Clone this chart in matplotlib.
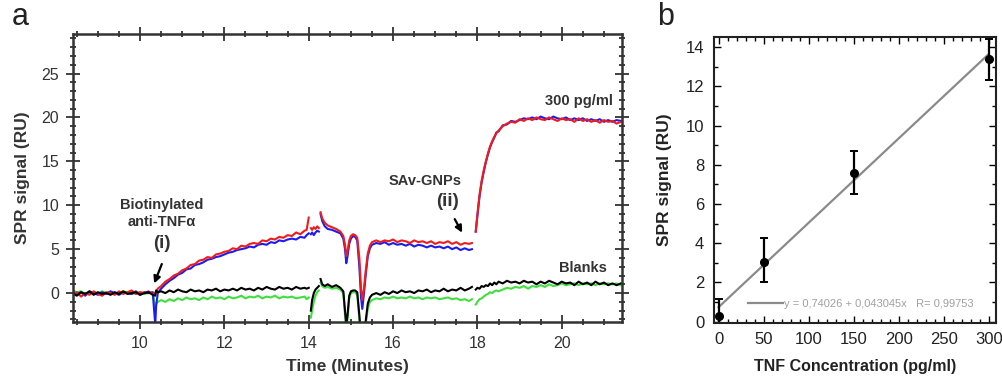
import numpy as np
import matplotlib
matplotlib.use("Agg")
import matplotlib.pyplot as plt
from matplotlib.ticker import MultipleLocator

plt.rcParams['font.family'] = ['Liberation Sans', 'DejaVu Sans']

# ---- panel a: SPR sensorgram (time in minutes, signal in RU) ----
# segment 1: baseline + anti-TNF binding
t_1 = np.r_[np.arange(8.4, 10.35, 0.1), [10.36, 10.38, 10.42],
            np.arange(10.5, 13.95, 0.1), [13.95, 14.0]]
red_1 = [-0.3, 0.1, -0.4, 0.0, -0.2, 0.2, -0.1, -0.3, 0.1, 0.0, -0.2, 0.2, -0.1, 0.1, 0.3, -0.1, 0.1, 0.0, 0.2, -0.1,
         0.0, 0.2, 0.5,
         0.8, 1.3, 1.6, 2.0, 2.2, 2.6, 2.8, 3.2, 3.3, 3.7, 3.8, 4.1, 4.0, 4.4, 4.5, 4.7, 4.8, 5.1, 5.0, 5.4, 5.3,
         5.6, 5.7, 5.6, 6.0, 5.9, 6.2, 6.1, 6.4, 6.3, 6.6, 6.5, 6.9, 6.7, 7.1,
         7.2, 8.6]
blue_1 = [0.2, -0.1, 0.1, -0.3, 0.2, 0.0, -0.2, 0.1, -0.1, 0.2, 0.0, -0.2, 0.1, 0.0, -0.1, 0.2, -0.2, 0.1, 0.0, 0.1,
          -3.6, -1.5, 0.0,
          0.5, 1.0, 1.4, 1.7, 2.1, 2.3, 2.7, 2.8, 3.2, 3.3, 3.5, 3.8, 3.9, 4.1, 4.2, 4.4, 4.6, 4.7, 4.9, 5.0, 5.1,
          5.3, 5.2, 5.5, 5.6, 5.5, 5.8, 5.7, 6.0, 5.9, 6.1, 6.2, 6.1, 6.4, 6.3,
          6.6, 6.8]
black_1 = [0.0, -0.3, 0.1, -0.1, 0.2, -0.2, 0.1, -0.1, 0.0, -0.2, 0.1, -0.1, 0.2, -0.1, 0.0, 0.1, -0.2, 0.0, 0.1, -0.2,
           -0.3, 0.3, 0.1,
           0.2, 0.0, 0.3, 0.1, 0.4, 0.2, 0.1, 0.4, 0.2, 0.3, 0.1, 0.4, 0.3, 0.5, 0.2, 0.4, 0.3, 0.5, 0.3, 0.6, 0.4,
           0.5, 0.3, 0.6, 0.4, 0.7, 0.5, 0.4, 0.7, 0.5, 0.6, 0.4, 0.7, 0.5, 0.6,
           0.5, 0.6]
green_1 = [0.3, 0.1, 0.2, -0.1, 0.0, 0.1, -0.1, 0.2, 0.0, 0.1, -0.1, 0.0, 0.2, 0.1, -0.1, 0.0, 0.1, -0.1, 0.0, 0.1,
           -1.6, -1.2, -1.0,
           -0.8, -1.0, -0.7, -0.9, -0.6, -0.8, -0.5, -0.7, -0.6, -0.8, -0.5, -0.7, -0.4, -0.6, -0.5, -0.7, -0.4,
           -0.6, -0.5, -0.3, -0.6, -0.4, -0.5, -0.3, -0.6, -0.4, -0.5, -0.3, -0.6, -0.4, -0.5, -0.4, -0.6, -0.5, -0.4,
           -0.7, -0.5]

# segment 2: short piece after injection switch
t_2 = [14.05, 14.08, 14.12, 14.16, 14.2, 14.24]
red_2 = [7.4, 7.2, 7.5, 7.3, 7.6, 7.4]
blue_2 = [6.7, 6.9, 6.6, 6.9, 7.1, 7.0]
black_2 = [-2.0, -0.8, 0.0, 0.4, 0.6, 0.8]
green_2 = [-2.8, -2.0, -1.0, -0.3, 0.1, 0.3]

# segment 3: TNF / wash with buffer dips
t_3 = np.r_[[14.28, 14.32, 14.38, 14.45, 14.55, 14.65, 14.75, 14.82, 14.86, 14.89, 14.92, 14.96,
             15.0, 15.05, 15.1, 15.15, 15.2, 15.24, 15.27, 15.31, 15.35, 15.4, 15.45, 15.5],
            np.arange(15.6, 17.85, 0.1), [17.87]]
red_3 = [9.2, 8.5, 8.0, 7.7, 7.5, 7.3, 7.0, 6.5, 5.5, 4.2, 4.8, 6.0,
         6.5, 6.7, 6.6, 6.3, 4.0, 0.5, -0.8, 0.5, 2.5, 4.5, 5.4, 5.8,
         6.0, 5.8, 6.0, 5.9, 6.1, 5.8, 6.0, 5.9, 5.7, 6.0, 5.8, 5.9, 5.7, 5.9, 5.6, 5.8, 5.7, 5.9, 5.6, 5.8,
         5.5, 5.7, 5.6, 5.7]
blue_3 = [9.0, 8.2, 7.6, 7.3, 7.2, 7.0, 6.8, 6.2, 5.0, 3.4, 4.2, 5.6,
          6.2, 6.5, 6.4, 6.0, 3.0, -0.5, -1.8, 0.0, 2.0, 4.2, 5.1, 5.5,
          5.7, 5.6, 5.8, 5.5, 5.7, 5.5, 5.6, 5.4, 5.6, 5.3, 5.5, 5.4, 5.2, 5.4, 5.2, 5.3, 5.1, 5.3, 5.0, 5.2,
          4.9, 5.1, 4.9, 5.0]
black_3 = [1.6, 1.0, 0.8, 1.0, 0.7, 0.9, 0.6, 0.2, -2.0, -3.6, -2.5, -0.3,
           0.2, 0.3, 0.3, 0.1, -2.5, -5.0, -5.0, -5.0, -3.2, -1.2, -0.5, -0.2,
           0.0, -0.2, 0.1, -0.1, 0.2, 0.0, 0.3, 0.1, 0.2, 0.0, 0.3, 0.2, 0.4, 0.1, 0.3, 0.2, 0.5, 0.2, 0.4, 0.3,
           0.6, 0.3, 0.5, 0.7]
green_3 = [1.2, 0.8, 0.6, 0.7, 0.5, 0.6, 0.4, 0.0, -2.5, -4.0, -3.0, -0.6,
           0.0, 0.1, 0.1, -0.2, -3.0, -5.0, -5.0, -5.0, -3.6, -1.8, -1.0, -0.8,
           -0.6, -0.7, -0.5, -0.6, -0.4, -0.6, -0.5, -0.6, -0.4, -0.6, -0.5, -0.7, -0.5, -0.6, -0.5, -0.7,
           -0.6, -0.5, -0.7, -0.6, -0.8, -0.7, -0.9, -0.7]

# segment 4: SAv-GNP amplification
t_4 = np.r_[[17.96, 18.0, 18.05, 18.1, 18.15, 18.2, 18.25, 18.3, 18.35, 18.4, 18.45, 18.5],
            np.arange(18.6, 21.45, 0.1)]
red_4 = [7.0, 9.0, 11.2, 12.8, 14.0, 15.0, 15.9, 16.7, 17.3, 17.8, 18.2, 18.5,
         19.0, 19.3, 19.5, 19.4, 19.8, 19.6, 19.9, 19.7, 20.0, 19.8, 19.7, 20.0, 19.8, 19.6, 19.9,
         19.7, 19.8, 19.5, 19.9, 19.6, 19.8, 19.5, 19.7, 19.4, 19.7, 19.5, 19.6, 19.3, 19.5]
blue_4 = [7.0, 8.8, 11.0, 12.6, 13.8, 14.9, 15.8, 16.6, 17.2, 17.7, 18.3, 18.4,
          19.1, 19.2, 19.6, 19.5, 19.7, 19.9, 19.8, 20.0, 19.8, 20.1, 19.9, 19.8, 20.1, 19.9, 19.8,
          20.0, 19.7, 19.9, 19.7, 19.9, 19.6, 19.8, 19.6, 19.8, 19.5, 19.7, 19.5, 19.7, 19.6]
black_4 = [0.4, 0.6, 0.5, 0.8, 0.7, 0.9, 0.8, 1.1, 0.9, 1.2, 1.0, 1.3,
           1.1, 1.4, 1.2, 1.3, 1.1, 1.4, 1.2, 1.3, 1.0, 1.3, 1.1, 1.4, 1.2, 1.0, 1.3,
           1.1, 1.2, 0.9, 1.3, 1.0, 1.2, 0.9, 1.3, 1.0, 1.2, 0.9, 1.1, 0.9, 1.1]
green_4 = [-1.3, -1.0, -0.7, -0.6, -0.4, -0.2, -0.1, 0.1, 0.0, 0.2, 0.3, 0.2,
           0.4, 0.6, 0.5, 0.7, 0.6, 0.8, 0.5, 0.8, 0.7, 0.9, 0.7, 1.0, 0.8, 0.9, 1.1,
           0.9, 1.0, 1.1, 0.9, 1.1, 1.0, 1.1, 0.9, 1.1, 1.0, 1.1, 1.0, 1.1, 0.9]

# ---- panel b: calibration ----
conc = [0, 50, 150, 300]
spr_mean = [0.29, 3.06, 7.6, 13.38]
err_low = [0.85, 1.06, 1.1, 1.08]
err_high = [0.85, 1.19, 1.11, 1.05]
fit_a, fit_b = 0.74026, 0.043045
fit_label = "y = 0,74026 + 0,043045x   R= 0,99753"

fig = plt.figure(figsize=(10.03, 3.78), dpi=100)
ax1 = fig.add_axes([0.0728, 0.148, 0.5474, 0.762])
ax2 = fig.add_axes([0.7119, 0.1463, 0.2812, 0.755])

segments = [(t_1, red_1, blue_1, black_1, green_1),
            (t_2, red_2, blue_2, black_2, green_2),
            (t_3, red_3, blue_3, black_3, green_3),
            (t_4, red_4, blue_4, black_4, green_4)]
for t, r, b, k, g in segments:
    ax1.plot(t, g, color='#3ee03e', lw=1.5)
    ax1.plot(t, b, color='#1c1cf0', lw=1.5)
    ax1.plot(t, r, color='#f01c1c', lw=1.5)
    ax1.plot(t, k, color='black', lw=1.5)

ax1.set_xlim(8.41, 21.43)
ax1.set_ylim(-3.3, 29.5)
ax1.set_xticks([10, 12, 14, 16, 18, 20])
ax1.set_yticks([0, 5, 10, 15, 20, 25])
ax1.xaxis.set_minor_locator(MultipleLocator(0.5))
ax1.yaxis.set_minor_locator(MultipleLocator(1))
ax1.tick_params(which='both', direction='inout', top=True, right=True,
                labelsize=11.5, colors='#333333', labelcolor='#333333', width=1.3)
ax1.tick_params(which='major', length=10, pad=5)
ax1.tick_params(which='minor', length=5)
for s in ax1.spines.values():
    s.set_linewidth(1.8)
    s.set_color('#333333')
ax1.set_xlabel("Time (Minutes)", fontsize=12.5, fontweight='bold', color='#333333', labelpad=6)
ax1.set_ylabel("SPR signal (RU)", fontsize=12.5, fontweight='bold', color='#333333', labelpad=8)

txt = dict(fontweight='bold', color='#333333', ha='center', va='center')
ax1.text(10.52, 10.0, "Biotinylated", fontsize=10.5, **txt)
ax1.text(10.52, 8.1, "anti-TNF\u03b1", fontsize=10.5, **txt)
ax1.text(10.52, 5.7, "(i)", fontsize=13.5, **txt)
ax1.annotate("", xy=(10.31, 0.8), xytext=(10.54, 3.6),
             arrowprops=dict(arrowstyle='-|>', color='black', lw=1.6, mutation_scale=10))
ax1.text(16.75, 12.8, "SAv-GNPs", fontsize=10.5, **txt)
ax1.text(17.3, 10.4, "(ii)", fontsize=13.5, **txt)
ax1.annotate("", xy=(17.67, 6.6), xytext=(17.43, 8.7),
             arrowprops=dict(arrowstyle='-|>', color='black', lw=1.6, mutation_scale=10))
ax1.text(20.4, 21.9, "300 pg/ml", fontsize=10.5, **txt)
ax1.text(20.5, 2.8, "Blanks", fontsize=10.5, **txt)

# panel b
xf = np.array([conc[0], conc[-1]])
ax2.plot(xf, fit_a + fit_b * xf, color='#8a8a8a', lw=1.6, label=fit_label)
ax2.errorbar(conc, spr_mean, yerr=[err_low, err_high], fmt='o', color='black',
             ms=5.5, elinewidth=1.6, capsize=3, capthick=1.4, clip_on=True)
ax2.set_xlim(-5, 308)
ax2.set_ylim(-0.05, 14.5)
ax2.set_xticks([0, 50, 100, 150, 200, 250, 300])
ax2.set_yticks([0, 2, 4, 6, 8, 10, 12, 14])
ax2.xaxis.set_minor_locator(MultipleLocator(10))
ax2.yaxis.set_minor_locator(MultipleLocator(1))
ax2.tick_params(which='both', direction='in', top=True, right=True,
                labelsize=12, labelcolor='#222222', width=1.0)
ax2.tick_params(which='major', length=5, pad=7)
ax2.tick_params(which='minor', length=3)
for s in ax2.spines.values():
    s.set_linewidth(1.5)
    s.set_color('#222222')
ax2.set_xlabel("TNF Concentration (pg/ml)", fontsize=11.5, fontweight='bold', color='#222222', labelpad=8)
ax2.set_ylabel("SPR signal (RU)", fontsize=12.5, fontweight='bold', color='#222222', labelpad=10)
ax2.legend(loc='center left', bbox_to_anchor=(0.1, 0.066), frameon=False, fontsize=8,
           labelcolor='#a0a0a0', handlelength=3.2, handletextpad=0.1, borderpad=0)

fig.text(0.012, 0.955, "a", fontsize=22, color='#222222', va='center')
fig.text(0.655, 0.955, "b", fontsize=22, color='#222222', va='center')

fig.savefig("out.png", dpi=100)
